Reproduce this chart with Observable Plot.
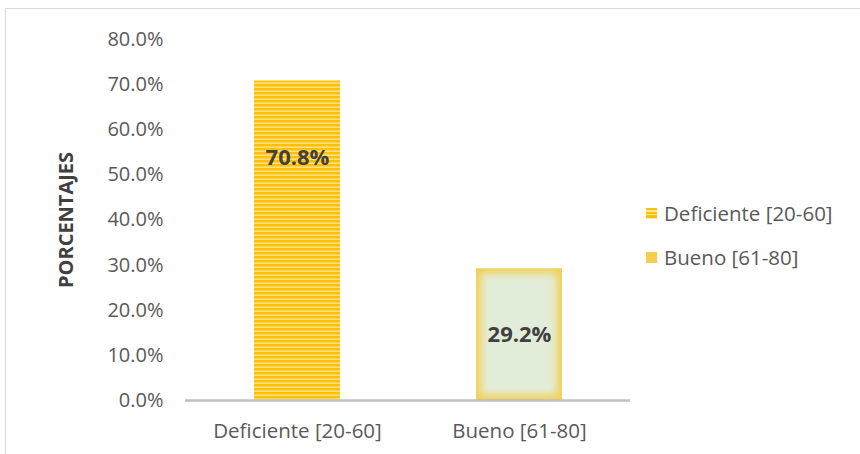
<!DOCTYPE html>
<html>
<head>
<meta charset="utf-8">
<script src="https://cdn.jsdelivr.net/npm/d3@7"></script>
<script src="https://cdn.jsdelivr.net/npm/@observablehq/plot@0.6"></script>
<style>
  html, body { margin: 0; padding: 0; background: #fff; }
  #wrap { position: relative; width: 860px; height: 454px; overflow: hidden; }
  #frame { position: absolute; left: 5px; top: 8px; width: 900px; height: 500px; border: 1.5px solid #D9D9D9; box-sizing: border-box; pointer-events: none; }
  #legend { position: absolute; left: 646px; top: 197px; font-family: "Open Sans", sans-serif; font-size: 20.5px; color: #595959; }
  .item { display: flex; align-items: center; height: 32px; margin-bottom: 12px; }
  .sw { width: 11px; height: 11px; margin-right: 7px; }
</style>
</head>
<body>
<div id="wrap">
  <div id="chart"></div>
  <div id="frame"></div>
  <div id="legend"></div>
</div>
<script>
const categories = ["Deficiente [20-60]", "Bueno [61-80]"];
const values = [70.8, 29.2];
const labelAt = [53.7, 14.6];
const yTicks = [0, 10, 20, 30, 40, 50, 60, 70, 80];
const yTitle = "PORCENTAJES";

const data = categories.map((c, i) => ({cat: c, value: values[i], lab: labelAt[i]}));
const fmt = d => d.toFixed(1) + "%";

const plot = Plot.plot({
  width: 860,
  height: 454,
  marginLeft: 185,
  marginRight: 230,
  marginTop: 39,
  marginBottom: 54,
  style: {fontFamily: "'Open Sans', sans-serif", fontSize: "20px", color: "#595959", background: "transparent"},
  x: {domain: categories, paddingInner: 0.613, paddingOuter: 0.307, align: 0.5, label: null},
  y: {domain: [0, 80], label: null},
  marks: [
    Plot.barY([data[0]], {x: "cat", y: "value", fill: "url(#stripes)"}),
    Plot.barY([data[1]], {x: "cat", y: "value", fill: "#F3CF52"}),
    Plot.barY([data[1]], {x: "cat", y: "value", fill: "#E2EDD9", inset: 5}),
    Plot.ruleY([0], {stroke: "#BFBFBF", strokeWidth: 2.5}),
    Plot.axisY({ticks: yTicks, tickFormat: fmt, tickSize: 0, tickPadding: 22, fontSize: 20, fill: "#595959"}),
    Plot.axisX({tickSize: 0, tickPadding: 23, fontSize: 20.5, fill: "#595959"}),
    Plot.text([yTitle], {frameAnchor: "left", textAnchor: "middle", dx: -119, rotate: -90, text: d => d, fontWeight: "bold", fontSize: 20, fill: "#404040"}),
    Plot.text(data, {x: "cat", y: "lab", text: d => fmt(d.value), fontWeight: "bold", fontSize: 22, fill: "#404040"})
  ]
});

const svg = d3.select(plot);
const defs = svg.insert("defs", ":first-child");
const pat = defs.append("pattern").attr("id", "stripes").attr("patternUnits", "userSpaceOnUse").attr("width", 8).attr("height", 4);
pat.append("rect").attr("width", 8).attr("height", 4).attr("fill", "#FFC000");
pat.append("rect").attr("y", 2.5).attr("width", 8).attr("height", 1.3).attr("fill", "#FFE7A0");
const flt = defs.append("filter").attr("id", "soft").attr("x", "-20%").attr("y", "-20%").attr("width", "140%").attr("height", "140%");
flt.append("feGaussianBlur").attr("stdDeviation", 4);
const barGroups = svg.selectAll('g[aria-label="bar"]').nodes();
if (barGroups.length >= 3) d3.select(barGroups[2]).attr("filter", "url(#soft)");

document.getElementById("chart").appendChild(plot);

const legend = document.getElementById("legend");
categories.forEach((c, i) => {
  const it = document.createElement("div");
  it.className = "item";
  const sw = document.createElement("div");
  sw.className = "sw";
  sw.style.background = i === 0
    ? "repeating-linear-gradient(180deg, #FFC000 0px, #FFC000 2.5px, #FFE7A0 2.5px, #FFE7A0 3.6px)"
    : "#F4CE4C";
  const tx = document.createElement("span");
  tx.textContent = c;
  it.appendChild(sw); it.appendChild(tx);
  legend.appendChild(it);
});
</script>
</body>
</html>
